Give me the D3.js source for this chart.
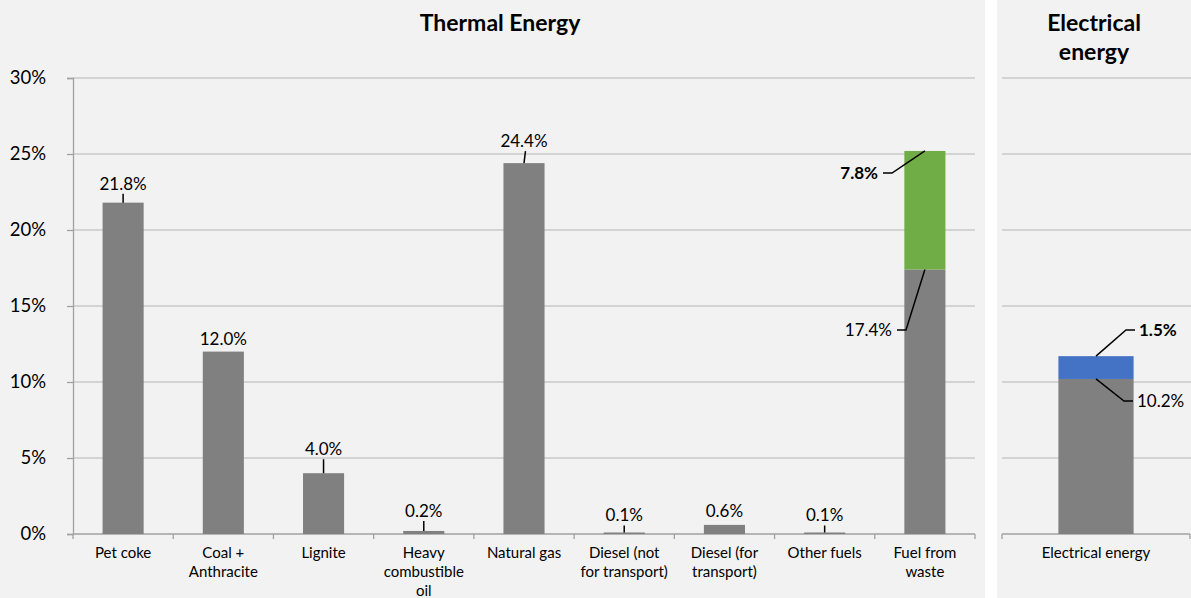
<!DOCTYPE html>
<html>
<head>
<meta charset="UTF-8" />
<title>Thermal and electrical energy</title>
<script src="https://d3js.org/d3.v7.min.js"></script>
<style>
  body { margin: 0; background: #ffffff; }
  text { font-family: Lato, "Open Sans", sans-serif; fill: #000; }
</style>
</head>
<body>
<svg id="chart"></svg>
<script>
// data (percent)
var thermalCats = ["Pet coke", "Coal + Anthracite", "Lignite", "Heavy combustible oil", "Natural gas",
                   "Diesel (not for transport)", "Diesel (for transport)", "Other fuels", "Fuel from waste"]
// how the category names break in the axis labels
var thermalLines = [["Pet coke"], ["Coal +", "Anthracite"], ["Lignite"], ["Heavy", "combustible", "oil"],
                    ["Natural gas"], ["Diesel (not", "for transport)"], ["Diesel (for", "transport)"],
                    ["Other fuels"], ["Fuel from", "waste"]]
var thermalValues = [21.8, 12.0, 4.0, 0.2, 24.4, 0.1, 0.6, 0.1, 17.4]
var wasteExtra = [0, 0, 0, 0, 0, 0, 0, 0, 7.8]
var elecCats = ["Electrical energy"]
var elecLines = [["Electrical energy"]]
var elecBase = [10.2]
var elecExtra = [1.5]
var yTicks = [0, 5, 10, 15, 20, 25, 30]

// colours
var gray = "#808080"
var green = "#70ad47"
var blue = "#4472c4"
var panelBg = "#f2f2f2"
var gridCol = "#c8c8c8"
var axisCol = "#a0a0a0"

var W = 1191, H = 598
var svg = d3.select("#chart").attr("width", W).attr("height", H)

// two panels with a white gap
svg.append("rect").attr("x", 0).attr("y", 0).attr("width", 985).attr("height", H).attr("fill", panelBg)
svg.append("rect").attr("x", 997).attr("y", 0).attr("width", W - 997).attr("height", H).attr("fill", panelBg)

var y = d3.scaleLinear().domain([0, 30]).range([534, 78])
var xL = d3.scaleBand().domain(thermalCats).range([73, 975]).paddingInner(0.59).paddingOuter(0.295)
var xR = d3.scaleBand().domain(elecCats).range([1002, 1190]).paddingInner(0.6).paddingOuter(0.3)

// gridlines
function grid(x0, x1) {
  svg.append("g").selectAll("line").data(yTicks.slice(1)).enter().append("line")
    .attr("x1", x0).attr("x2", x1)
    .attr("y1", d => y(d)).attr("y2", d => y(d))
    .attr("stroke", gridCol).attr("stroke-width", 1.3)
}
grid(73, 975)
grid(1002, 1191)

// y axis
var yAxis = d3.axisLeft(y).tickValues(yTicks).tickFormat(d => d + "%").tickSize(6).tickPadding(21)
var gy = svg.append("g").attr("transform", "translate(73,0)").call(yAxis)
gy.select(".domain").attr("stroke", axisCol).attr("stroke-width", 1.3)
gy.selectAll(".tick line").attr("stroke", axisCol).attr("stroke-width", 1.3)
gy.selectAll(".tick text").style("font-size", "18.5px").style("font-family", "Lato")

// x axis: labels at band centres, ticks at band boundaries
function xAxisFor(scale, lines) {
  var r = scale.range(), n = scale.domain().length, step = scale.step()
  var g = svg.append("g")
  g.append("line").attr("x1", r[0]).attr("x2", r[1]).attr("y1", y(0)).attr("y2", y(0))
    .attr("stroke", axisCol).attr("stroke-width", 1.3)
  var start = r[0] + (scale.paddingOuter() - scale.paddingInner() / 2) * step
  g.selectAll(".bt").data(d3.range(n + 1)).enter().append("line")
    .attr("x1", i => start + i * step).attr("x2", i => start + i * step)
    .attr("y1", y(0)).attr("y2", y(0) + 5)
    .attr("stroke", axisCol).attr("stroke-width", 1.3)
  g.selectAll(".cl").data(scale.domain()).enter().append("text")
    .attr("text-anchor", "middle")
    .style("font-size", "15px")
    .each(function (d, i) {
      var cx = scale(d) + scale.bandwidth() / 2
      d3.select(this).selectAll("tspan").data(lines[i]).enter().append("tspan")
        .attr("x", cx).attr("y", (t, k) => 558 + k * 19).text(t => t)
    })
}

xAxisFor(xL, thermalLines)
xAxisFor(xR, elecLines)

// thermal bars
svg.append("g").selectAll("rect").data(thermalCats).enter().append("rect")
  .attr("x", d => xL(d)).attr("width", xL.bandwidth())
  .attr("y", (d, i) => y(thermalValues[i]))
  .attr("height", (d, i) => y(0) - y(thermalValues[i]))
  .attr("fill", gray)

svg.append("g").selectAll("rect").data(thermalCats.filter((d, i) => wasteExtra[i] > 0)).enter().append("rect")
  .attr("x", d => xL(d)).attr("width", xL.bandwidth())
  .attr("y", d => { var i = thermalCats.indexOf(d); return y(thermalValues[i] + wasteExtra[i]) })
  .attr("height", d => { var i = thermalCats.indexOf(d); return y(thermalValues[i]) - y(thermalValues[i] + wasteExtra[i]) })
  .attr("fill", green)

// electrical bar
svg.append("g").selectAll("rect").data(elecCats).enter().append("rect")
  .attr("x", d => xR(d)).attr("width", xR.bandwidth())
  .attr("y", (d, i) => y(elecBase[i])).attr("height", (d, i) => y(0) - y(elecBase[i]))
  .attr("fill", gray)
svg.append("g").selectAll("rect").data(elecCats).enter().append("rect")
  .attr("x", d => xR(d)).attr("width", xR.bandwidth())
  .attr("y", (d, i) => y(elecBase[i] + elecExtra[i]))
  .attr("height", (d, i) => y(elecBase[i]) - y(elecBase[i] + elecExtra[i]))
  .attr("fill", blue)

// data labels above the single bars (lift = gap from bar top to label centre)
var lift = [19, 13, 24, 20, 22, 17, 14, 17]
var fmt = d3.format(".1f")
var lab = svg.append("g")
thermalCats.slice(0, 8).forEach((c, i) => {
  var cx = xL(c) + xL.bandwidth() / 2, top = y(thermalValues[i])
  var cy = top - lift[i]
  lab.append("text").attr("x", cx).attr("y", cy + 6).attr("text-anchor", "middle")
    .style("font-size", "17px").text(fmt(thermalValues[i]) + "%")
  if (lift[i] > 15) {
    lab.append("line").attr("x1", cx + (i == 4 ? 1.5 : 0)).attr("y1", cy + 10)
      .attr("x2", cx).attr("y2", top)
      .attr("stroke", "#000").attr("stroke-width", 1.5)
  }
})

// side labels with leader lines
function leader(bx, by, tx, ty, dir) {
  var elbow = tx + dir * 4, corner = elbow + dir * 9
  lab.append("path").attr("d", "M" + elbow + "," + ty + "H" + corner + "L" + bx + "," + by)
    .attr("fill", "none").attr("stroke", "#000").attr("stroke-width", 1.5)
}
function sideText(tx, ty, anchor, txt, bold) {
  lab.append("text").attr("x", tx).attr("y", ty + 6).attr("text-anchor", anchor)
    .style("font-size", "17px").style("font-weight", bold ? "bold" : "normal").text(txt)
}
var wi = thermalCats.length - 1
var wx = xL(thermalCats[wi]) + xL.bandwidth() / 2
leader(wx, y(thermalValues[wi] + wasteExtra[wi]), 879, 173, 1)
sideText(878, 173, "end", fmt(wasteExtra[wi]) + "%", true)
leader(wx, y(thermalValues[wi]), 893, 330, 1)
sideText(892, 330, "end", fmt(thermalValues[wi]) + "%", false)

var ex = xR(elecCats[0]) + xR.bandwidth() / 2
leader(ex, y(elecBase[0] + elecExtra[0]), 1139, 330, -1)
sideText(1139, 330, "start", fmt(elecExtra[0]) + "%", true)
leader(ex, y(elecBase[0]), 1137, 401, -1)
sideText(1137, 401, "start", fmt(elecBase[0]) + "%", false)

// titles
svg.append("text").attr("x", 500).attr("y", 31).attr("text-anchor", "middle")
  .style("font-size", "23px").style("font-weight", "bold").text("Thermal Energy")
var t2 = svg.append("text").attr("text-anchor", "middle").style("font-size", "23px").style("font-weight", "bold")
t2.append("tspan").attr("x", 1094).attr("y", 31).text("Electrical")
t2.append("tspan").attr("x", 1094).attr("y", 60).text("energy")
</script>
</body>
</html>
